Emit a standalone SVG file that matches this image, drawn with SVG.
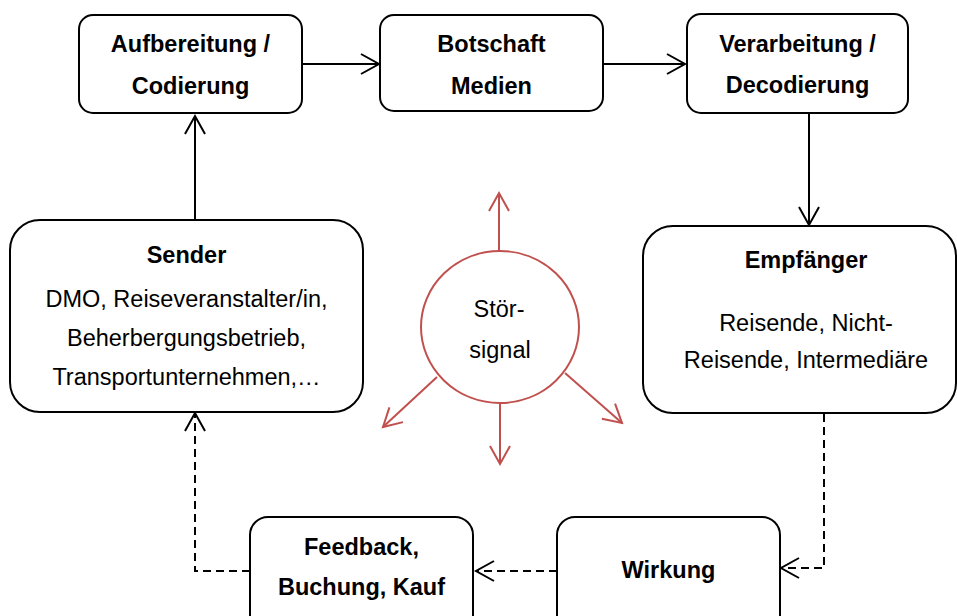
<svg xmlns="http://www.w3.org/2000/svg" width="957" height="616" viewBox="0 0 957 616">
  <defs>
    <marker id="open" markerUnits="userSpaceOnUse" markerWidth="24" markerHeight="24" viewBox="-20 -12 24 24" refX="0" refY="0" orient="auto">
      <path d="M-18,-10 L0,0 L-18,10" fill="none" stroke="#000" stroke-width="2"/>
    </marker>
    <marker id="openRed" markerUnits="userSpaceOnUse" markerWidth="24" markerHeight="24" viewBox="-20 -12 24 24" refX="0" refY="0" orient="auto">
      <path d="M-18,-10 L0,0 L-18,10" fill="none" stroke="#C0504D" stroke-width="2"/>
    </marker>
  </defs>
  <style>
    .box { fill: #fff; stroke: #000; stroke-width: 2; }
    .b { font-family: "Liberation Sans", Arial, sans-serif; font-size: 23.5px; font-weight: bold; text-anchor: middle; fill: #000; }
    .r { font-family: "Liberation Sans", Arial, sans-serif; font-size: 23.5px; text-anchor: middle; fill: #000; }
    .solid { fill: none; stroke: #000; stroke-width: 2; marker-end: url(#open); }
    .dash { fill: none; stroke: #000; stroke-width: 2; stroke-dasharray: 8 5; marker-end: url(#open); }
    .red { fill: none; stroke: #C0504D; stroke-width: 2; marker-end: url(#openRed); }
  </style>
  <rect width="957" height="616" fill="#fff"/>

  <g id="connectors">
    <path class="solid" d="M302,64 H379"/>
    <path class="solid" d="M603,64 H685"/>
    <path class="solid" d="M809,113 V225"/>
    <path class="solid" d="M195,220 V116"/>
    <path class="dash" d="M824,414 V568 H781"/>
    <path class="dash" d="M557,571 H476"/>
    <path class="dash" d="M250,571 H195 V413"/>
  </g>

  <g id="aufbereitung">
    <rect class="box" x="79" y="15" width="223" height="98" rx="14"/>
    <text class="b" x="190.5" y="52">Aufbereitung /</text>
    <text class="b" x="190.5" y="94">Codierung</text>
  </g>

  <g id="botschaft">
    <rect class="box" x="380" y="15" width="223" height="96" rx="14"/>
    <text class="b" x="491.5" y="52">Botschaft</text>
    <text class="b" x="491.5" y="94">Medien</text>
  </g>

  <g id="verarbeitung">
    <rect class="box" x="687" y="14" width="221" height="99" rx="14"/>
    <text class="b" x="797.5" y="52">Verarbeitung /</text>
    <text class="b" x="797.5" y="93">Decodierung</text>
  </g>

  <g id="sender">
    <rect class="box" x="10" y="220" width="353" height="192" rx="30"/>
    <text class="b" x="186.5" y="263">Sender</text>
    <text class="r" x="186.5" y="307">DMO, Reiseveranstalter/in,</text>
    <text class="r" x="186.5" y="346">Beherbergungsbetrieb,</text>
    <text class="r" x="186.5" y="385">Transportunternehmen,…</text>
  </g>

  <g id="empfaenger">
    <rect class="box" x="643" y="226" width="313" height="187" rx="30"/>
    <text class="b" x="806" y="268">Empfänger</text>
    <text class="r" x="806" y="331">Reisende, Nicht-</text>
    <text class="r" x="806" y="368">Reisende, Intermediäre</text>
  </g>

  <g id="stoersignal">
    <path class="red" d="M499,252 V193"/>
    <path class="red" d="M500,403 V464"/>
    <path class="red" d="M437,377 L383,427"/>
    <path class="red" d="M565,373 L622,423"/>
    <ellipse cx="500" cy="327" rx="79" ry="76" fill="#fff" stroke="#C0504D" stroke-width="2"/>
    <text class="r" x="499" y="317">Stör-</text>
    <text class="r" x="500" y="358">signal</text>
  </g>

  <g id="feedback">
    <rect class="box" x="250" y="517" width="223" height="120" rx="18"/>
    <text class="b" x="361.5" y="555">Feedback,</text>
    <text class="b" x="361.5" y="595">Buchung, Kauf</text>
  </g>

  <g id="wirkung">
    <rect class="box" x="557" y="517" width="223" height="120" rx="18"/>
    <text class="b" x="668.5" y="578">Wirkung</text>
  </g>
</svg>
